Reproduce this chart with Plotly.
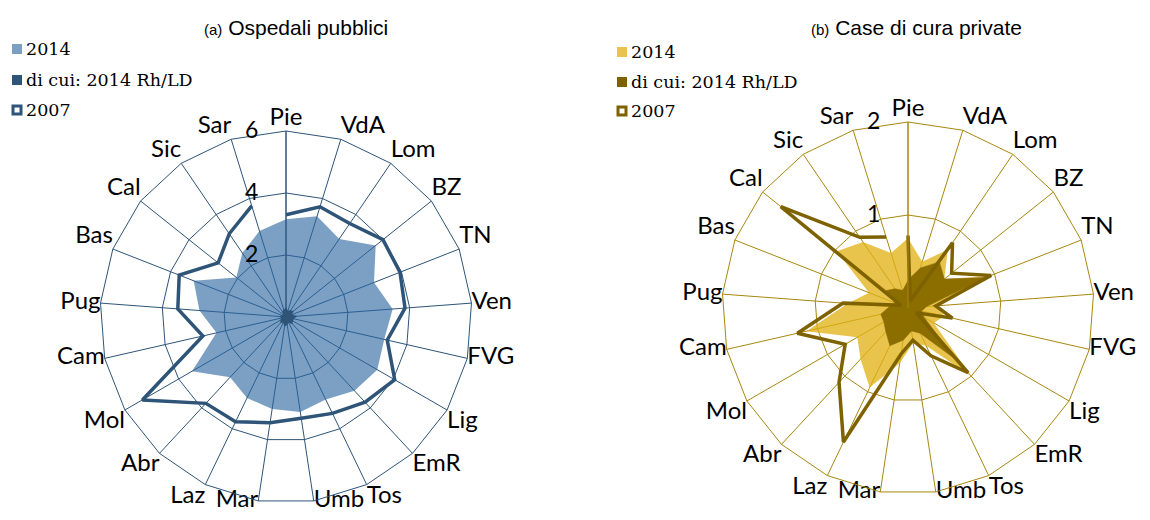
import plotly.graph_objects as go

cats = ["Pie", "VdA", "Lom", "BZ", "TN", "Ven", "FVG", "Lig", "EmR", "Tos", "Umb",
        "Mar", "Laz", "Abr", "Mol", "Cam", "Pug", "Bas", "Cal", "Sic", "Sar"]

# (a) Ospedali pubblici
pub_2014 = [3.15, 3.4, 3.05, 3.7, 3.05, 3.45, 3.25, 3.4, 3.25, 2.95, 3.1,
            3.0, 2.9, 2.65, 3.5, 2.3, 2.8, 3.2, 2.05, 2.5, 2.9]
pub_rh = [0.3, 0.2, 0.25, 0.3, 0.2, 0.35, 0.25, 0.25, 0.3, 0.2, 0.25,
          0.3, 0.2, 0.25, 0.2, 0.15, 0.2, 0.15, 0.1, 0.2, 0.25]
pub_2007 = [3.3, 3.72, 3.65, 4.0, 3.95, 3.85, 3.35, 4.05, 3.75, 3.45, 3.3,
            3.45, 3.75, 3.8, 5.35, 2.75, 3.5, 3.7, 2.8, 3.25, 3.75]

# (b) Case di cura private
priv_2014 = [0.75, 0.52, 0.76, 0.5, 0.93, 0.33, 0.4, 0.32, 1.0, 0.45, 0.38,
             0.6, 0.95, 0.75, 0.63, 1.12, 0.65, 0.45, 0.98, 0.86, 0.62]
priv_rh = [0.3, 0.45, 0.6, 0.5, 0.9, 0.2, 0.15, 0.2, 0.75, 0.3, 0.25,
           0.35, 0.45, 0.35, 0.3, 0.3, 0.2, 0.15, 0.3, 0.25, 0.2]
priv_2007 = [0.78, 0.08, 0.85, 0.6, 0.96, 0.3, 0.49, 0.1, 0.95, 0.57, 0.35,
             0.5, 1.6, 1.09, 0.78, 1.22, 0.7, 0.08, 1.75, 0.92, 0.8]

series_names = ["2014", "di cui: 2014 Rh/LD", "2007"]
titles = ["(a)", "Ospedali pubblici", "(b)", "Case di cura private"]
ticks_a = [2, 4, 6]
ticks_b = [1, 2]
range_a = [0, 6]
range_b = [0, 2]

W, H = 1150, 520
# semi-transparent fills pre-blended so they look like the solid colours on white
BLUE_L, BLUE_D = "rgba(42,102,160,0.62)", "#2E5478"
GOLD_L, GOLD_D, GOLD_LINE, GOLD_GRID = "rgba(224,176,16,0.75)", "#8C6D00", "#7E6200", "#A8870F"
BLUE_LEG, GOLD_LEG = "#7BA0C4", "#E8C44C"

# placement of category labels around each polygon (style only)
label_pos = ["top center", "top right", "top right", "top right", "top right",
             "middle right", "middle right", "bottom right", "bottom right",
             "bottom right", "middle right", "middle left", "bottom left",
             "bottom left", "bottom left", "middle left", "middle left",
             "top left", "top left", "top left", "top left"]

fig = go.Figure()


def add_set(v14, vrh, v07, rmax, light, dark, linec, sub):
    fig.add_trace(go.Scatterpolar(r=v14, theta=cats, fill="toself", fillcolor=light,
                                  mode="lines", line=dict(width=0),
                                  name=series_names[0], subplot=sub, hoverinfo="skip"))
    fig.add_trace(go.Scatterpolar(r=vrh, theta=cats, fill="toself", fillcolor=dark,
                                  mode="lines", line=dict(color=dark, width=0.5),
                                  name=series_names[1], subplot=sub, hoverinfo="skip"))
    fig.add_trace(go.Scatterpolar(r=v07, theta=cats, mode="lines",
                                  line=dict(color=linec, width=3.5),
                                  name=series_names[2], subplot=sub, hoverinfo="skip"))
    # category labels, placed at the outer polygon vertices
    fig.add_trace(go.Scatterpolar(r=[rmax] * len(cats), theta=cats, mode="text",
                                  text=cats, textposition=label_pos, cliponaxis=False,
                                  textfont=dict(family="Lato", size=24, color="black"),
                                  subplot=sub, hoverinfo="skip", showlegend=False))


add_set(pub_2014, pub_rh, pub_2007, range_a[1], BLUE_L, BLUE_D, BLUE_D, "polar")
add_set(priv_2014, priv_rh, priv_2007, range_b[1], GOLD_L, GOLD_D, GOLD_LINE, "polar2")


def px_x(v):
    return v / W


def px_y(v):
    return 1 - v / H


def polar_cfg(x0, x1, y0, y1, rng, tv, gc):
    return dict(
        domain=dict(x=[px_x(x0), px_x(x1)], y=[px_y(y1), px_y(y0)]),
        gridshape="linear",
        bgcolor="white",
        angularaxis=dict(direction="clockwise", rotation=90, type="category",
                         categoryorder="array", categoryarray=cats,
                         showline=True, linecolor=gc, linewidth=1,
                         showgrid=True, gridcolor=gc, gridwidth=1, ticks="",
                         showticklabels=False, layer="above traces"),
        radialaxis=dict(range=rng, tickvals=tv, ticktext=[str(t) for t in tv],
                        showline=True, linecolor=gc, linewidth=1,
                        showgrid=True, gridcolor=gc, gridwidth=1,
                        ticks="outside", ticklen=19, tickcolor="rgba(0,0,0,0)",
                        side="counterclockwise", angle=90, tickangle=90,
                        layer="above traces",
                        tickfont=dict(family="Lato", size=23, color="black")),
    )


shapes = []
annotations = []


def legend(xs, ys, light, dark):
    sz = 10
    for i, y in enumerate(ys):
        if i < 2:
            shapes.append(dict(type="rect", xref="paper", yref="paper",
                               x0=px_x(xs), x1=px_x(xs + sz), y0=px_y(y + sz / 2), y1=px_y(y - sz / 2),
                               fillcolor=[light, dark][i], line=dict(width=0)))
        else:
            shapes.append(dict(type="rect", xref="paper", yref="paper",
                               x0=px_x(xs + 1), x1=px_x(xs + sz - 1), y0=px_y(y + sz / 2 - 1), y1=px_y(y - sz / 2 + 1),
                               fillcolor="white", line=dict(color=dark, width=3)))
        annotations.append(dict(text=series_names[i], xref="paper", yref="paper",
                                x=px_x(xs + 12), y=px_y(y), xanchor="left", yanchor="middle",
                                showarrow=False,
                                font=dict(family="DejaVu Serif", size=17.5, color="black")))


legend(12, [49, 80, 110], BLUE_LEG, BLUE_D)
legend(617, [52, 82, 111], GOLD_LEG, GOLD_LINE)

annotations.append(dict(text=f"<span style='font-size:15px'>{titles[0]}</span> {titles[1]}",
                        xref="paper", yref="paper", x=px_x(296), y=px_y(27),
                        xanchor="center", yanchor="middle", showarrow=False,
                        font=dict(family="Liberation Sans", size=21, color="black")))
annotations.append(dict(text=f"<span style='font-size:15px'>{titles[2]}</span> {titles[3]}",
                        xref="paper", yref="paper", x=px_x(916), y=px_y(27),
                        xanchor="center", yanchor="middle", showarrow=False,
                        font=dict(family="Liberation Sans", size=21, color="black")))

fig.update_layout(
    width=W, height=H,
    margin=dict(l=0, r=0, t=0, b=0),
    paper_bgcolor="white",
    showlegend=False,
    polar=polar_cfg(100, 472, 131, 503, range_a, ticks_a, BLUE_D),
    polar2=polar_cfg(722, 1094, 122, 494, range_b, ticks_b, GOLD_GRID),
    shapes=shapes,
    annotations=annotations,
)

fig.write_html("out.html", config={"displayModeBar": False},
               post_script="document.body.style.margin='0';")
